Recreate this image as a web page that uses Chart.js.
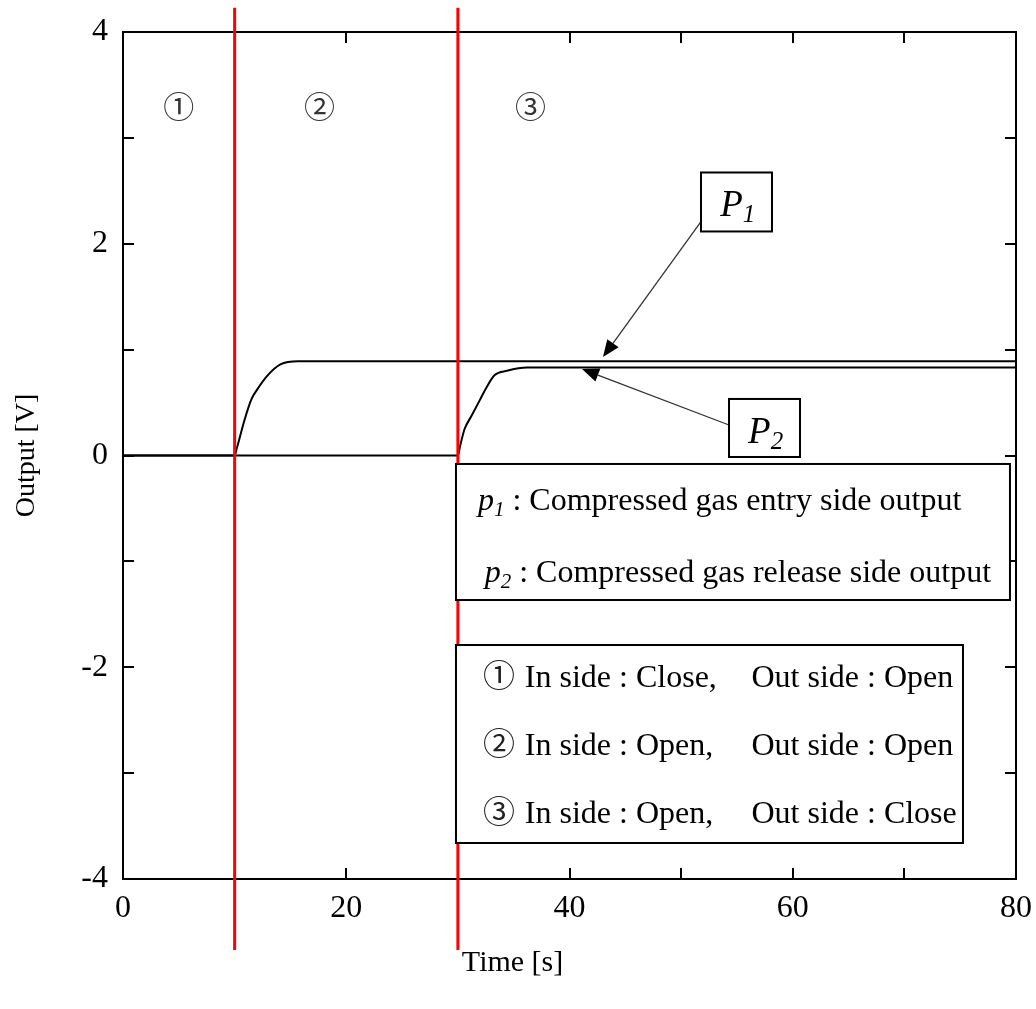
<!DOCTYPE html>
<html>
<head>
<meta charset="utf-8">
<script src="https://cdn.jsdelivr.net/npm/chart.js@4.4.1/dist/chart.umd.min.js"></script>
<style>
    html, body { margin: 0; padding: 0; background: #fff; }
</style>
</head>
<body>
<canvas id="output-chart" width="1036" height="1009"></canvas>
<script>
// sensor outputs
const timeP1 = [0, 10, 10.2, 10.9, 11.5, 12.0, 12.9, 14.1, 15.7, 80];
const outputP1 = [0, 0, 0.07, 0.34, 0.53, 0.62, 0.75, 0.86, 0.89, 0.89];
const timeP2 = [0, 30, 30.2, 30.6, 31.2, 32.0, 32.6, 33.3, 34.4, 36.2, 80];
const outputP2 = [0, 0, 0.09, 0.25, 0.37, 0.53, 0.65, 0.76, 0.80, 0.83, 0.83];

// valve switching moments (red lines)
const switchTimes = [10, 30];
const switchSpan = [-4.67, 4.23];

const xTickLabels = [0, 20, 40, 60, 80];
const yTickLabels = [-4, -2, 0, 2, 4];

const phaseMarks = ['①', '②', '③'];
const phaseTimes = [5, 17.6, 36.5];

const seriesSubscripts = ['1', '2'];
const seriesDescriptions = ['Compressed gas entry side output', 'Compressed gas release side output'];

const inSideStates = ['Close', 'Open', 'Open'];
const outSideStates = ['Open', 'Open', 'Close'];

const xTitle = 'Time [s]';
const yTitle = 'Output [V]';

const SERIF = "'Liberation Serif', 'Times New Roman', 'Noto Sans CJK JP', serif";

// where the annotations sit, in data units
const layout = {
    phaseY: 3.26,
    xTitleX: 34.9,
    p1Box: { x0: 51.78, x1: 58.14, y0: 2.673, y1: 2.116, textX: 53.5, textY: 2.262,
             from: [51.78, 2.21], to: [43.0, 0.93] },
    p2Box: { x0: 54.29, x1: 60.65, y0: 0.534, y1: -0.014, textX: 56.0, textY: 0.118,
             from: [54.29, 0.288], to: [41.12, 0.817] },
    seriesBox: { x0: 29.83, x1: 79.46, y0: -0.08, y1: -1.365, textX: [31.8, 32.4], textY: [-0.515, -1.195] },
    stateBox: { x0: 29.83, x1: 75.25, y0: -1.79, y1: -3.66, markX: 32.25, inX: 36.0, outX: 56.3,
                textY: [-2.19, -2.83, -3.47] }
};

function toPoints(xs, ys) {
    return xs.map((x, i) => ({ x: x, y: ys[i] }));
}

function drawRuns(ctx, x, y, runs) {
    runs.forEach(run => {
        ctx.font = run.font;
        ctx.fillText(run.text, x, y + (run.dy || 0));
        x += ctx.measureText(run.text).width + (run.gap || 0);
    });
    return x;
}

function drawBox(ctx, sx, sy, box) {
    const l = sx.getPixelForValue(box.x0), r = sx.getPixelForValue(box.x1);
    const t = sy.getPixelForValue(box.y0), b = sy.getPixelForValue(box.y1);
    ctx.fillStyle = '#fff';
    ctx.fillRect(l, t, r - l, b - t);
    ctx.strokeStyle = '#000';
    ctx.lineWidth = 2;
    ctx.strokeRect(l, t, r - l, b - t);
}

function drawArrow(ctx, sx, sy, from, to) {
    const x1 = sx.getPixelForValue(from[0]), y1 = sy.getPixelForValue(from[1]);
    const x2 = sx.getPixelForValue(to[0]), y2 = sy.getPixelForValue(to[1]);
    const ang = Math.atan2(y2 - y1, x2 - x1);
    const len = 17, half = 7;
    ctx.strokeStyle = '#333';
    ctx.lineWidth = 1.3;
    ctx.beginPath();
    ctx.moveTo(x1, y1);
    ctx.lineTo(x2 - Math.cos(ang) * len, y2 - Math.sin(ang) * len);
    ctx.stroke();
    ctx.fillStyle = '#000';
    ctx.beginPath();
    ctx.moveTo(x2, y2);
    ctx.lineTo(x2 - Math.cos(ang) * len - Math.sin(ang) * half, y2 - Math.sin(ang) * len + Math.cos(ang) * half);
    ctx.lineTo(x2 - Math.cos(ang) * len + Math.sin(ang) * half, y2 - Math.sin(ang) * len - Math.cos(ang) * half);
    ctx.closePath();
    ctx.fill();
}

const framePlugin = {
    id: 'frame',
    beforeDatasetsDraw(chart) {
        const { ctx, chartArea: a, scales: { x, y } } = chart;
        ctx.save();
        ctx.strokeStyle = '#000';
        ctx.lineWidth = 2;
        ctx.strokeRect(a.left, a.top, a.right - a.left, a.bottom - a.top);
        ctx.beginPath();
        x.ticks.forEach(t => {
            if (t.value <= x.min || t.value >= x.max) return;
            const px = Math.round(x.getPixelForValue(t.value));
            ctx.moveTo(px, a.bottom); ctx.lineTo(px, a.bottom - 11);
            ctx.moveTo(px, a.top); ctx.lineTo(px, a.top + 11);
        });
        y.ticks.forEach(t => {
            if (t.value <= y.min || t.value >= y.max) return;
            const py = Math.round(y.getPixelForValue(t.value));
            ctx.moveTo(a.left, py); ctx.lineTo(a.left + 11, py);
            ctx.moveTo(a.right, py); ctx.lineTo(a.right - 11, py);
        });
        ctx.stroke();

        // x axis title, sits a little left of the plot centre in the original
        ctx.fillStyle = '#000';
        ctx.font = '30px ' + SERIF;
        ctx.textAlign = 'center';
        ctx.textBaseline = 'middle';
        ctx.fillText(xTitle, x.getPixelForValue(layout.xTitleX), 963);
        ctx.restore();
    },
    afterDatasetsDraw(chart) {
        const { ctx, scales: { x, y } } = chart;
        ctx.save();

        // phase numbers
        ctx.fillStyle = '#333';
        ctx.font = '31px ' + SERIF;
        ctx.textAlign = 'center';
        ctx.textBaseline = 'middle';
        phaseMarks.forEach((m, i) => {
            ctx.fillText(m, x.getPixelForValue(phaseTimes[i]), y.getPixelForValue(layout.phaseY));
        });
        ctx.textAlign = 'left';
        ctx.textBaseline = 'alphabetic';

        // P1 / P2 callouts
        [layout.p1Box, layout.p2Box].forEach((box, i) => {
            drawArrow(ctx, x, y, box.from, box.to);
            drawBox(ctx, x, y, box);
            ctx.fillStyle = '#000';
            drawRuns(ctx, x.getPixelForValue(box.textX), y.getPixelForValue(box.textY), [
                { text: 'P', font: 'italic 37px ' + SERIF },
                { text: seriesSubscripts[i], font: 'italic 25px ' + SERIF, dy: 6 }
            ]);
        });

        // series description box
        const sb = layout.seriesBox;
        drawBox(ctx, x, y, sb);
        ctx.fillStyle = '#000';
        seriesDescriptions.forEach((d, i) => {
            drawRuns(ctx, x.getPixelForValue(sb.textX[i]), y.getPixelForValue(sb.textY[i]), [
                { text: 'p', font: 'italic 32px ' + SERIF },
                { text: seriesSubscripts[i], font: 'italic 21px ' + SERIF, dy: 6 },
                { text: ' : ' + d, font: '32px ' + SERIF }
            ]);
        });

        // valve state box
        const st = layout.stateBox;
        drawBox(ctx, x, y, st);
        phaseMarks.forEach((m, i) => {
            const py = y.getPixelForValue(st.textY[i]);
            ctx.fillStyle = '#222';
            drawRuns(ctx, x.getPixelForValue(st.markX), py, [{ text: m, font: '32px ' + SERIF }]);
            ctx.fillStyle = '#000';
            drawRuns(ctx, x.getPixelForValue(st.inX), py, [{ text: 'In side : ' + inSideStates[i] + ',', font: '32px ' + SERIF }]);
            drawRuns(ctx, x.getPixelForValue(st.outX), py, [{ text: 'Out side : ' + outSideStates[i], font: '32px ' + SERIF }]);
        });
        ctx.restore();
    }
};

const datasets = [
    {
        label: 'p1',
        data: toPoints(timeP1, outputP1),
        borderColor: '#000',
        borderWidth: 2,
        pointRadius: 0,
        cubicInterpolationMode: 'monotone'
    },
    {
        label: 'p2',
        data: toPoints(timeP2, outputP2),
        borderColor: '#000',
        borderWidth: 2,
        pointRadius: 0,
        cubicInterpolationMode: 'monotone'
    }
];

switchTimes.forEach(t => {
    datasets.push({
        label: 'switch ' + t,
        data: toPoints([t, t], switchSpan),
        borderColor: '#ff0000',
        borderWidth: 3,
        pointRadius: 0,
        clip: false,
        order: -1
    });
});

new Chart(document.getElementById('output-chart'), {
    type: 'line',
    data: { datasets: datasets },
    options: {
        responsive: false,
        animation: false,
        devicePixelRatio: 1,
        layout: { padding: { top: 32, right: 20, left: 0, bottom: 0 } },
        plugins: {
            legend: { display: false },
            tooltip: { enabled: false }
        },
        scales: {
            x: {
                type: 'linear',
                min: 0,
                max: 80,
                grid: { display: false, drawTicks: false },
                border: { display: false },
                ticks: {
                    stepSize: 10,
                    padding: 10,
                    maxRotation: 0,
                    autoSkip: false,
                    color: '#000',
                    font: { family: SERIF, size: 32 },
                    callback: v => xTickLabels.includes(v) ? String(v) : ''
                },
                afterFit: scale => {
                    scale.height = 130;
                    scale.paddingLeft = 0;
                    scale.paddingRight = 0;
                }
            },
            y: {
                type: 'linear',
                min: -4,
                max: 4,
                grid: { display: false, drawTicks: false },
                border: { display: false },
                ticks: {
                    stepSize: 1,
                    padding: 15,
                    autoSkip: false,
                    color: '#000',
                    font: { family: SERIF, size: 32 },
                    callback: v => yTickLabels.includes(v) ? String(v) : ''
                },
                title: {
                    display: true,
                    text: yTitle,
                    color: '#000',
                    font: { family: SERIF, size: 28 },
                    padding: { top: 10, bottom: 0 }
                },
                afterFit: scale => {
                    scale.width = 123;
                    scale.paddingTop = 0;
                    scale.paddingBottom = 0;
                }
            }
        }
    },
    plugins: [framePlugin]
});
</script>
</body>
</html>
